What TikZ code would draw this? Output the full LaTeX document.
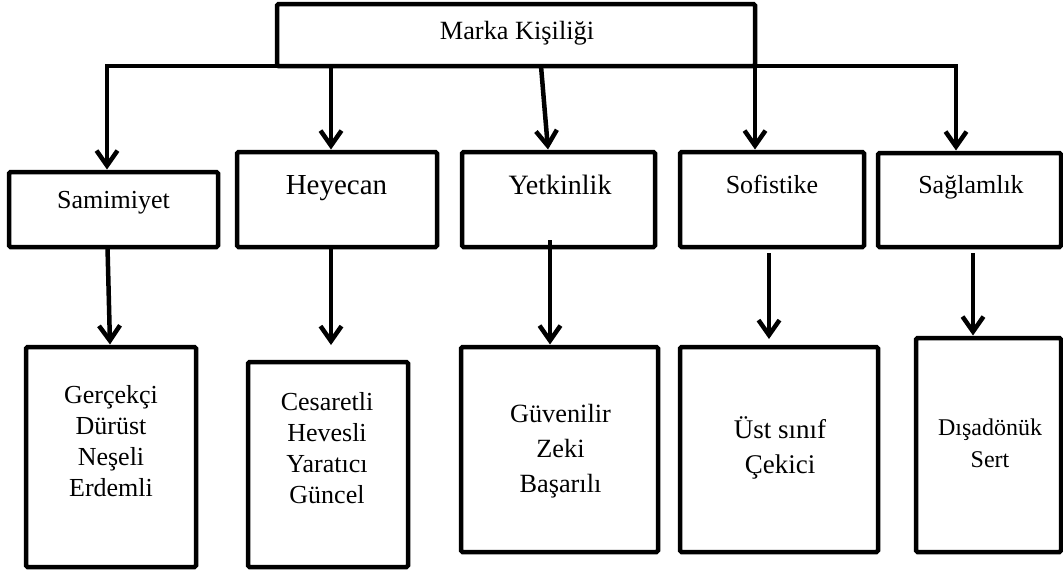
\documentclass[tikz,border=0pt]{standalone}
\usepackage{fontspec}
\setmainfont{Liberation Serif}
\usetikzlibrary{arrows.meta}
\newcommand{\fs}[2]{\fontsize{#1}{#2}\selectfont}
\begin{document}
\begin{tikzpicture}[x=1pt,y=-1pt,
  frame/.style={draw, line width=4.5pt, rounded corners=1.5pt, inner sep=0pt, outer sep=0pt},
  link/.style={line width=4.5pt, line join=miter,
    -{Straight Barb[length=15pt,width=21pt,line width=4.5pt]}},
  txt/.style={inner sep=0pt, anchor=base, align=center}
]
\useasboundingbox (0,0) rectangle (1063,574);

% top box
\node[frame, minimum width=478, minimum height=62] (root) at (516,35) {};
\node[txt, font=\fs{26.3}{30}] (roottxt) at (517,39) {Marka Kişiliği};

% second level boxes
\node[frame, minimum width=209, minimum height=75] (sam) at (113.5,209.5) {};
\node[frame, minimum width=200, minimum height=95] (hey) at (337,199.5) {};
\node[frame, minimum width=193, minimum height=95] (yet) at (558.5,199.5) {};
\node[frame, minimum width=184, minimum height=95] (sof) at (772,199.5) {};
\node[frame, minimum width=183, minimum height=94] (sag) at (969.5,200) {};

\node[txt, font=\fs{26}{31}] (samtxt) at (113.5,208) {Samimiyet};
\node[txt, font=\fs{29}{34}] (heytxt) at (336.5,194) {Heyecan};
\node[txt, font=\fs{28}{33}] (yettxt) at (560,194) {Yetkinlik};
\node[txt, font=\fs{26}{31}] (softxt) at (772,193) {Sofistike};
\node[txt, font=\fs{26}{31}] (sagtxt) at (971,193) {Sağlamlık};

% third level boxes
\node[frame, minimum width=170, minimum height=220] (ger) at (111,457) {};
\node[frame, minimum width=160, minimum height=205] (ces) at (328,464.5) {};
\node[frame, minimum width=197, minimum height=205] (guv) at (559.5,449.5) {};
\node[frame, minimum width=198, minimum height=205] (ust) at (779,449.5) {};
\node[frame, minimum width=145, minimum height=214] (dis) at (988.5,445) {};

% multi-line texts sit on the baseline of their last line
\node[txt, font=\fs{26}{31}] (gertxt) at (111,496) {Gerçekçi\\Dürüst\\Neşeli\\Erdemli};
\node[txt, font=\fs{26}{30.7}] (cestxt) at (327,503) {Cesaretli\\Hevesli\\Yaratıcı\\Güncel};
\node[txt, font=\fs{26.3}{35}] (guvtxt) at (560.5,492) {Güvenilir\\Zeki\\Başarılı};
\node[txt, font=\fs{27}{35}] (usttxt) at (780,473) {Üst sınıf\\Çekici};
\node[txt, font=\fs{24}{32}] (distxt) at (990,467) {Dışadönük\\Sert};

% branch points on the distribution line
\coordinate (b1) at (107,66);
\coordinate (b2) at (331,66);
\coordinate (b3) at (541,66);
\coordinate (b5) at (956,66);

% distribution line and arrows to the second level
\draw[link] (root.south west) -- (b1) -- ([yshift=2.5pt]b1 |- sam.north);
\draw[link] (root.south east) -- (b5) -- ([yshift=2.5pt]b5 |- sag.north);
\draw[link] (b2) -- ([yshift=2.5pt]b2 |- hey.north);
\draw[link] (b3) -- ([xshift=7pt,yshift=2.5pt]b3 |- yet.north);
\draw[link] (root.south east) -- ([yshift=2.5pt]root.south east |- sof.north);

% arrows to the third level
\coordinate (d1) at (107.5,247);
\coordinate (d2) at (331,247);
\coordinate (d3) at (550,240);
\coordinate (d4) at (769,253);
\coordinate (d5) at (973,253);
\draw[link] (d1) -- ([xshift=2.5pt,yshift=2.5pt]d1 |- ger.north);
\draw[link] (d2) -- ([yshift=17pt]d2 |- ces.north);
\draw[link] (d3) -- ([yshift=2.5pt]d3 |- guv.north);
\draw[link] (d4) -- ([yshift=8pt]d4 |- ust.north);
\draw[link] (d5) -- ([yshift=2.5pt]d5 |- dis.north);
\end{tikzpicture}
\end{document}
